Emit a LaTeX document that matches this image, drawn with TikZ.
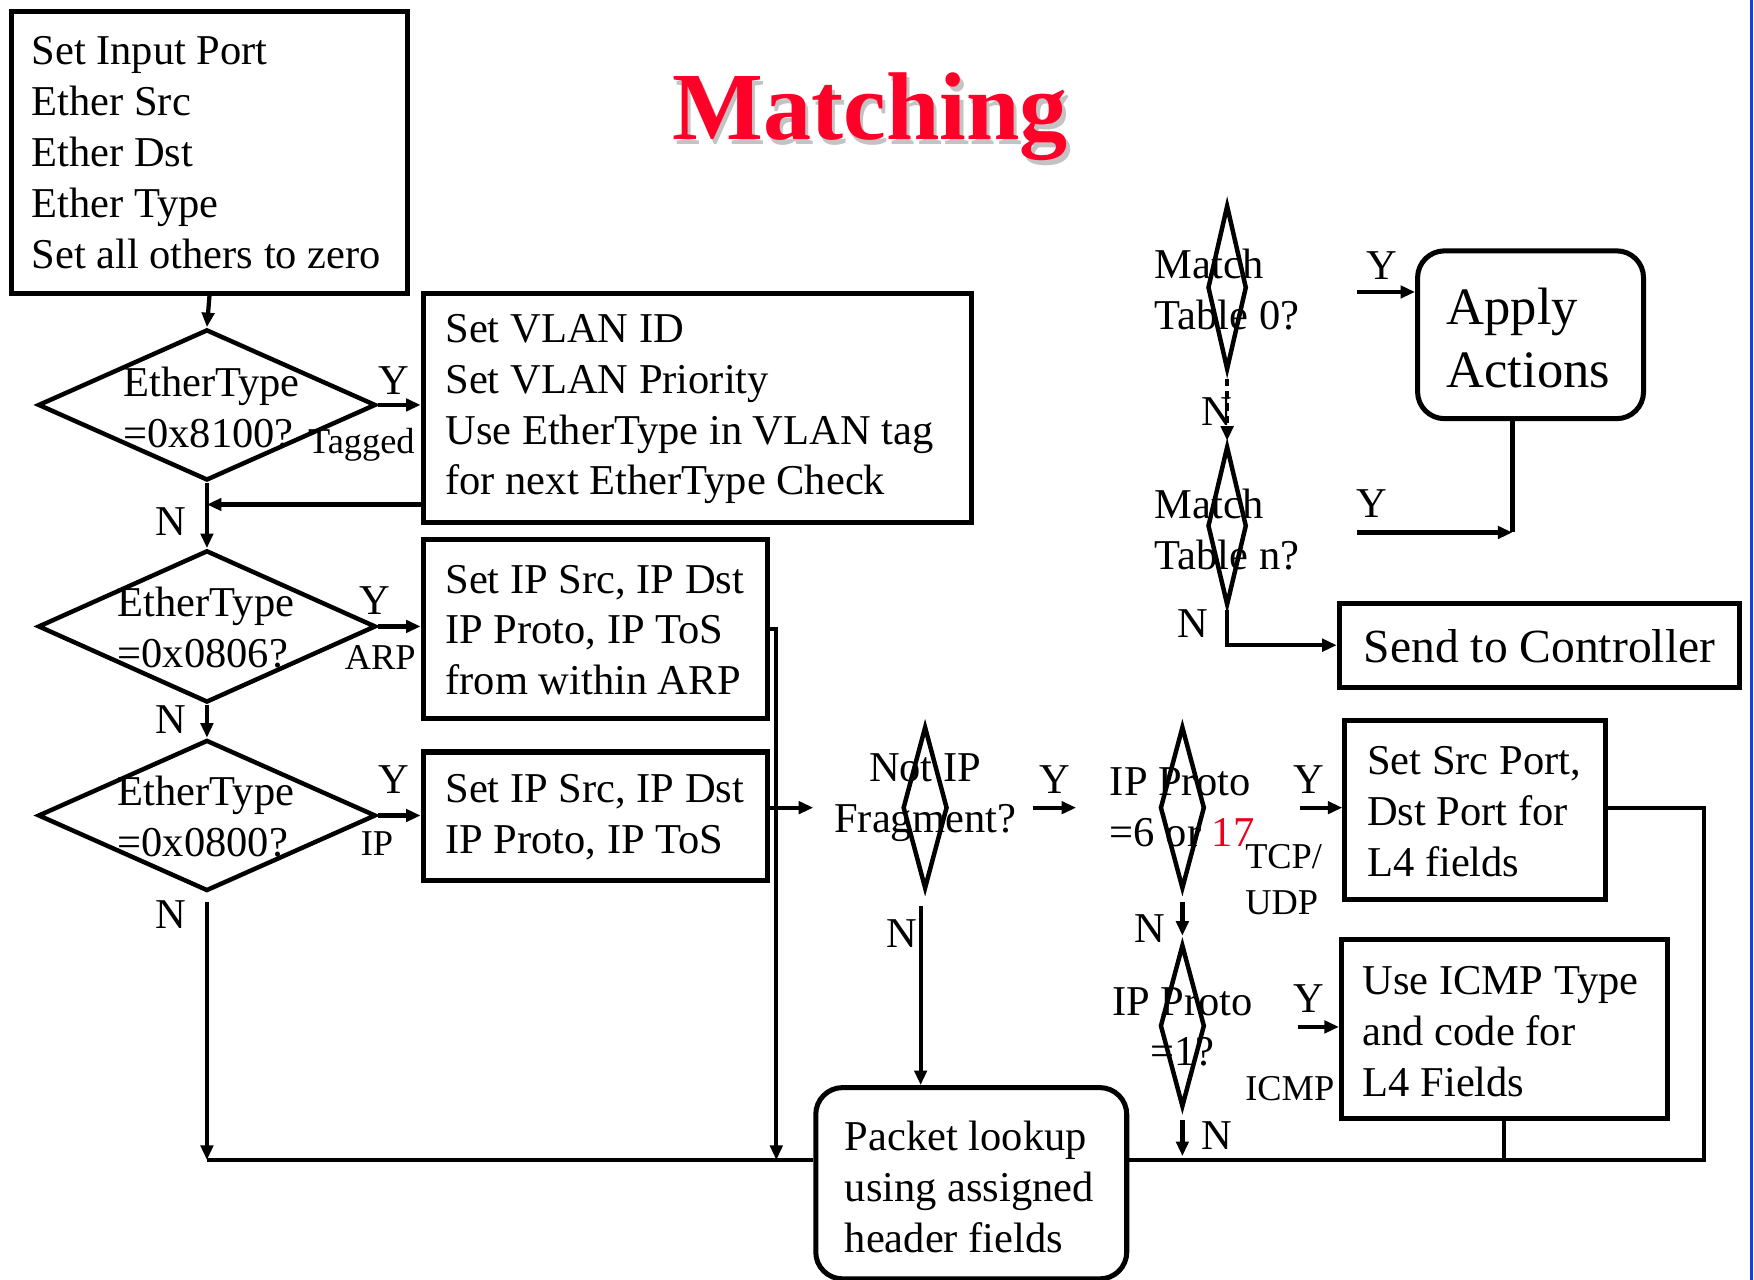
\documentclass[tikz,border=0pt]{standalone}
\usepackage{fontspec}
\setmainfont{Liberation Serif}
\usetikzlibrary{shapes.geometric,arrows.meta,calc}
\definecolor{titlered}{RGB}{255,0,40}
\definecolor{shadowgray}{RGB}{195,195,195}
\definecolor{edgeblue}{RGB}{25,60,230}
\definecolor{numred}{RGB}{235,0,30}
\begin{document}
\begin{tikzpicture}[x=1pt,y=-1pt,
  box/.style={draw, line width=4.5pt, rectangle, inner sep=0pt, anchor=north west},
  rbox/.style={box, rounded corners=24pt},
  dia/.style={draw, line width=4pt, diamond, inner sep=0pt},
  txt/.style={font=\fontsize{38}{45.5}\selectfont, inner sep=0pt, align=left},
  lbl/.style={font=\fontsize{38}{45.5}\selectfont, inner sep=0pt},
  sml/.style={font=\fontsize{32.5}{41}\selectfont, inner sep=0pt, align=left},
  conn/.style={line width=3.8pt},
  arr/.style={conn, -{Triangle[length=13pt,width=11pt]}},
]
\useasboundingbox (0,0) rectangle (1568,1144);

% title
\node[font=\fontsize{86}{86}\selectfont\bfseries, text=shadowgray, anchor=base, inner sep=0pt] (titleshadow) at (781,129) {Matching};
\node[font=\fontsize{86}{86}\selectfont\bfseries, text=titlered, anchor=base, inner sep=0pt] (title) at (778,125) {Matching};

% boxes
\node[box, minimum width=354pt, minimum height=252pt] (bA) at (8,8) {};
\node[txt, anchor=west] (tA) at ([xshift=20pt]bA.west) {Set Input Port\\Ether Src\\Ether Dst\\Ether Type\\Set all others to zero};

\node[box, minimum width=490pt, minimum height=205pt] (bB) at (376,260) {};
\node[txt, anchor=west] (tB) at ([xshift=22pt,yshift=-1pt]bB.west) {Set VLAN ID\\Set VLAN Priority\\Use EtherType in VLAN tag\\for next EtherType Check};

\node[box, minimum width=308pt, minimum height=160pt] (bC) at (376,480) {};
\node[txt, anchor=west] (tC) at ([xshift=22pt,yshift=-1pt]bC.west) {Set IP Src, IP Dst\\IP Proto, IP ToS\\from within ARP};

\node[box, minimum width=308pt, minimum height=115pt] (bD) at (376,670) {};
\node[txt, anchor=west] (tD) at ([xshift=22pt,yshift=-1pt]bD.west) {Set IP Src, IP Dst\\IP Proto, IP ToS};

\node[box, minimum width=233pt, minimum height=160pt] (bE) at (1200,642) {};
\node[txt, anchor=west] (tE) at ([xshift=22pt,yshift=-1pt]bE.west) {Set Src Port,\\Dst Port for\\L4 fields};

\node[box, minimum width=291pt, minimum height=160pt] (bF) at (1197,838) {};
\node[txt, anchor=west] (tF) at ([xshift=21pt,yshift=-2pt]bF.west) {Use ICMP Type\\and code for\\L4 Fields};

\node[box, minimum width=358pt, minimum height=75pt] (send) at (1195,537) {};
\node[font=\fontsize{42.5}{50}\selectfont, inner sep=0pt] (tsend) at ([yshift=-1pt]send.center) {Send to Controller};

\node[rbox, minimum width=202pt, minimum height=150pt] (ap) at (1265,222) {};
\node[font=\fontsize{47}{56}\selectfont, inner sep=0pt, align=left, anchor=west] (tap) at ([xshift=28pt,yshift=-3pt]ap.west) {Apply\\Actions};

\node[rbox, minimum width=278pt, minimum height=171pt] (pl) at (727,970) {};
\node[txt, anchor=west] (tpl) at ([xshift=28pt,yshift=-3pt]pl.west) {Packet lookup\\using assigned\\header fields};

% diamonds
\node[dia, minimum width=302pt, minimum height=135pt] (d1) at (185,362) {};
\node[dia, minimum width=302pt, minimum height=136pt] (d2) at (185,560) {};
\node[dia, minimum width=302pt, minimum height=135pt] (d3) at (185,729) {};
\node[dia, minimum width=40pt, minimum height=145pt] (nf) at (827,722) {};
\node[dia, minimum width=40pt, minimum height=145pt] (ip1) at (1057,722) {};
\node[dia, minimum width=40pt, minimum height=145pt] (ip2) at (1057,917) {};
\node[dia, minimum width=35pt, minimum height=147pt] (m0) at (1097,257) {};
\node[dia, minimum width=35pt, minimum height=142pt] (mn) at (1097,470) {};

\node[txt, anchor=west] (td1) at (110,364) {EtherType\\=0x8100?};
\node[txt, anchor=west] (td2) at (105,561) {EtherType\\=0x0806?};
\node[txt, anchor=west] (td3) at (105,730) {EtherType\\=0x0800?};
\node[txt, align=center] (tnf) at (827,713) {Not IP\\Fragment?};
\node[txt, anchor=west] (tip1) at (992,722) {IP Proto\\=6 or \textcolor{numred}{17}};
\node[txt, align=center] (tip2) at (1057,918) {IP Proto\\=1?};
\node[txt, anchor=west] (tm0) at (1032,259) {Match\\Table 0?};
\node[txt, anchor=west] (tmn) at (1032,473) {Match\\Table n?};

% labels
\node[lbl] (y1) at (352,340) {Y};
\node[lbl] (y2) at (335,537) {Y};
\node[lbl] (y3) at (352,697) {Y};
\node[lbl] (y4) at (943,697) {Y};
\node[lbl] (y5) at (1170,697) {Y};
\node[lbl] (y6) at (1170,893) {Y};
\node[lbl] (y7) at (1235,237) {Y};
\node[lbl] (y8) at (1226,450) {Y};
\node[lbl] (n1) at (153,466) {N};
\node[lbl] (n2) at (153,643) {N};
\node[lbl] (n3) at (153,818) {N};
\node[lbl] (n4) at (806,835) {N};
\node[lbl] (n5) at (1028,830) {N};
\node[lbl] (n6) at (1088,1015) {N};
\node[lbl] (n7) at (1088,368) {N};
\node[lbl] (n8) at (1066,557) {N};
\node[sml] (ltag) at (323,398) {Tagged};
\node[sml] (larp) at (340,588) {ARP};
\node[sml] (lip) at (337,754) {IP};
\node[sml, anchor=west] (ltcp) at (1113,786) {TCP/\\UDP};
\node[sml] (licmp) at (1153,973) {ICMP};

% coordinates
\coordinate (vl) at (376,451);
\coordinate (cB) at (694,1037);
\coordinate (dOut) at (727,722);
\coordinate (bl) at (185,1037);
\coordinate (br) at (1523,1037);
\coordinate (er) at (1523,722);
\coordinate (nfo) at (823,810);
\coordinate (ya1) at (923,722);
\coordinate (ya2) at (962,722);
\coordinate (ye) at (1162,722);
\coordinate (yf) at (1160,918);
\coordinate (ym0) at (1213,261);
\coordinate (ymn) at (1213,476);
\coordinate (apd) at (1352,476);
\coordinate (mno) at (1097,545);

% connectors
\draw[arr] (bA.south) -- (d1.north);
\draw[arr] (d1.east) -- (d1.east -| bB.west);
\draw[arr] (vl) -- (vl -| d1.south);
\draw[arr] (d1.south) -- (d2.north);
\draw[arr] (d2.east) -- (d2.east -| bC.west);
\draw[arr] (bC.east) -| (cB);
\draw[arr] (d2.south) -- (d3.north);
\draw[arr] (d3.east) -- (d3.east -| bD.west);
\draw[arr] (bD.east |- dOut) -- (dOut);
\draw[arr] ([yshift=-8pt]d3.south) -- (bl);
\draw[conn] (bl) -- (bl -| pl.west);
\draw[conn] (bE.east |- er) -- (er) -- (br) -- (br -| pl.east);
\draw[conn] (bF.south) -- (bF.south |- br);
\draw[arr] (nfo) -- (nfo |- pl.north);
\draw[arr] (ya1) -- (ya2);
\draw[arr] (ye) -- (ye -| bE.west);
\draw[arr] ([yshift=-10pt]ip1.south) -- ([yshift=6pt]ip2.north);
\draw[arr] (yf) -- (yf -| bF.west);
\draw[arr] ([yshift=-10pt]ip2.south) -- ++(0,32);
\draw[arr] (ym0) -- (ym0 -| ap.west);
\draw[arr, dash pattern=on 7pt off 4pt] ([yshift=-6pt]m0.south) -- ([yshift=3pt]mn.north);
\draw[conn] (apd |- ap.south) -- (apd);
\draw[arr] (ymn) -- (apd);
\draw[arr] (mno) |- (send.west);

% right edge
\draw[edgeblue, line width=3pt] (1566,0) -- (1566,1144);
\end{tikzpicture}
\end{document}
